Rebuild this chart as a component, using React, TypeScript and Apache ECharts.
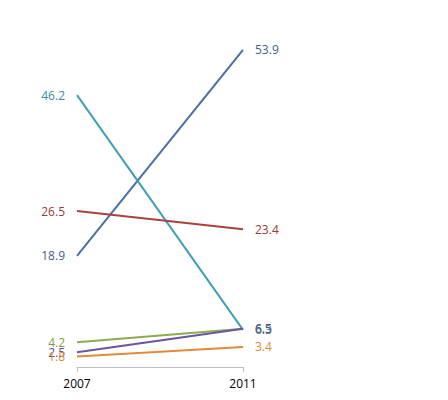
import * as echarts from 'echarts';
import { useEffect, useRef } from 'react';

const years = ['2007', '2011'];
const names = ['A', 'B', 'C', 'D', 'E', 'F'];
const start = [18.9, 46.2, 26.5, 4.2, 2.5, 1.8];
const end = [53.9, 6.3, 23.4, 6.5, 6.5, 3.4];
const lineColors = ['#4a6fa5', '#3fa0b3', '#a8423f', '#8cab4f', '#6b55a0', '#e3893b'];
const labelColors = ['#3f5f8f', '#3a8ca0', '#9a3b38', '#7f9c45', '#5f4b90', '#e08a35'];

export default function App() {
  const container = useRef<HTMLDivElement | null>(null);

  useEffect(() => {
    document.body.style.margin = '0';
    if (!container.current) return;
    const chart = echarts.init(container.current, undefined, { renderer: 'svg' });
    chart.setOption({
      animation: false,
      backgroundColor: '#fff',
      grid: { left: 77, right: 205, top: 14, bottom: 33 },
      xAxis: {
        type: 'category',
        data: years,
        boundaryGap: false,
        axisLine: { lineStyle: { color: '#bfbfbf' } },
        axisTick: { show: true, alignWithLabel: true, length: 5, lineStyle: { color: '#bfbfbf' } },
        axisLabel: { color: '#000', fontSize: 12, fontFamily: 'Open Sans', margin: 10 },
        splitLine: { show: false },
      },
      yAxis: {
        type: 'value',
        min: 0,
        max: 60,
        show: false,
      },
      series: names.map((name, i) => ({
        type: 'line',
        name,
        showSymbol: true,
        symbol: 'circle',
        symbolSize: 0,
        lineStyle: { color: lineColors[i], width: 2 },
        itemStyle: { color: lineColors[i] },
        label: {
          show: true,
          color: labelColors[i],
          fontSize: 12,
          fontFamily: 'Open Sans',
          formatter: (p: { value: number }) => p.value.toFixed(1),
        },
        data: [
          { value: start[i], label: { position: 'left', distance: 12 } },
          { value: end[i], label: { position: 'right', distance: 12 } },
        ],
      })),
    } as echarts.EChartsOption);
    return () => chart.dispose();
  }, []);

  return <div ref={container} style={{ width: 448, height: 400 }} />;
}
